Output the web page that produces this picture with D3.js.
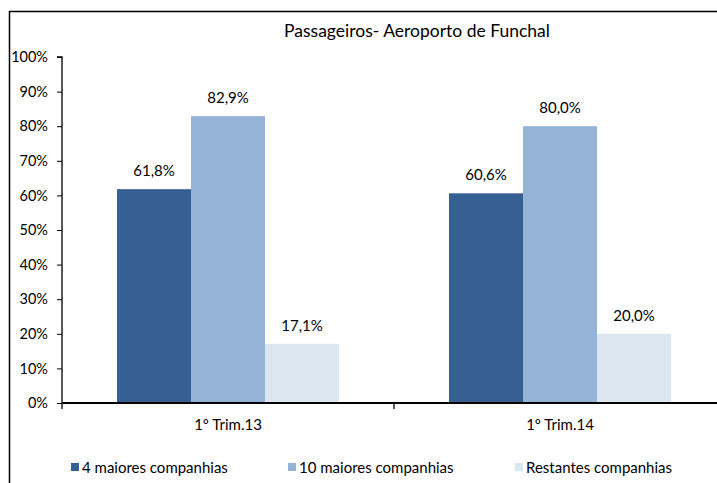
<!DOCTYPE html>
<html>
<head>
<meta charset="utf-8">
<script src="https://cdn.jsdelivr.net/npm/d3@7.9.0/dist/d3.min.js"></script>
<style>
  body { margin: 0; background: #fff; }
  svg { font-family: Lato, "Open Sans", sans-serif; }
</style>
</head>
<body>
<svg id="chart" width="717" height="483"></svg>
<script>
const categories = ['1º Trim.13', '1º Trim.14'];
const series = ['4 maiores companhias', '10 maiores companhias', 'Restantes companhias'];
const top4 = [61.8, 60.6];
const top10 = [82.9, 80.0];
const restantes = [17.1, 20.0];
const yTicks = [0, 10, 20, 30, 40, 50, 60, 70, 80, 90, 100];
const colors = ['#366092', '#95b3d7', '#dce6f1'];

const values = [top4, top10, restantes];
const data = categories.map((c, i) => ({
    cat: c,
    vals: series.map((s, j) => ({ series: s, idx: j, value: values[j][i] }))
}));

const svg = d3.select('#chart');

// chart frame
svg.append('rect')
    .attr('x', 9.5).attr('y', 11.5)
    .attr('width', 720).attr('height', 490)
    .attr('fill', 'none').attr('stroke', '#000').attr('stroke-width', 1.5);

svg.append('text')
    .attr('x', 417).attr('y', 37)
    .attr('text-anchor', 'middle')
    .attr('font-size', 17.5)
    .text('Passageiros- Aeroporto de Funchal');

const x0 = d3.scaleBand().domain(categories).range([62, 726]);
const x1 = d3.scaleBand().domain(series).range([55, 277]);
const y = d3.scaleLinear().domain([0, 100]).range([403, 57]);

// bars
const groups = svg.selectAll('g.grp')
    .data(data)
    .join('g')
    .attr('class', 'grp')
    .attr('transform', d => `translate(${x0(d.cat)},0)`);

groups.selectAll('rect')
    .data(d => d.vals)
    .join('rect')
    .attr('x', d => x1(d.series))
    .attr('width', x1.bandwidth())
    .attr('y', d => y(d.value))
    .attr('height', d => y(0) - y(d.value))
    .attr('fill', d => colors[d.idx]);

groups.selectAll('text.lbl')
    .data(d => d.vals)
    .join('text')
    .attr('class', 'lbl')
    .attr('x', d => x1(d.series) + x1.bandwidth() / 2)
    .attr('y', d => y(d.value) - 13)
    .attr('text-anchor', 'middle')
    .attr('font-size', 15)
    .text(d => d.value.toFixed(1).replace('.', ',') + '%');

// y axis
const yAxis = svg.append('g')
    .attr('transform', 'translate(62,0)')
    .call(d3.axisLeft(y).tickValues(yTicks).tickSize(5).tickPadding(9).tickFormat(d => d + '%'));
yAxis.selectAll('text').attr('font-size', 14.5).attr('font-family', 'Lato, sans-serif').attr('fill', '#000');
yAxis.select('.domain').attr('stroke-width', 1.3).attr('d', 'M-5,57H0V403');

// x axis
const xAxis = svg.append('g')
    .attr('transform', 'translate(0,403)')
    .call(d3.axisBottom(x0).tickSize(0).tickPadding(16));
xAxis.selectAll('text').attr('font-size', 15).attr('font-family', 'Lato, sans-serif').attr('fill', '#000');
xAxis.select('.domain').attr('stroke-width', 2).attr('d', 'M62,0H726');
// category boundary ticks
xAxis.selectAll('line.sep')
    .data(categories)
    .join('line')
    .attr('class', 'sep')
    .attr('x1', d => x0(d)).attr('x2', d => x0(d))
    .attr('y1', 0).attr('y2', 6)
    .attr('stroke', '#000').attr('stroke-width', 1.3);

// legend
const legendX = [71, 288, 515];
const legend = svg.selectAll('g.leg')
    .data(series)
    .join('g')
    .attr('class', 'leg')
    .attr('transform', (d, i) => `translate(${legendX[i]},467)`);
legend.append('rect')
    .attr('x', 0).attr('y', -4)
    .attr('width', 8).attr('height', 8)
    .attr('fill', (d, i) => colors[i]);
legend.append('text')
    .attr('x', 11).attr('y', 5.5)
    .attr('font-size', 15)
    .text(d => d);
</script>
</body>
</html>
